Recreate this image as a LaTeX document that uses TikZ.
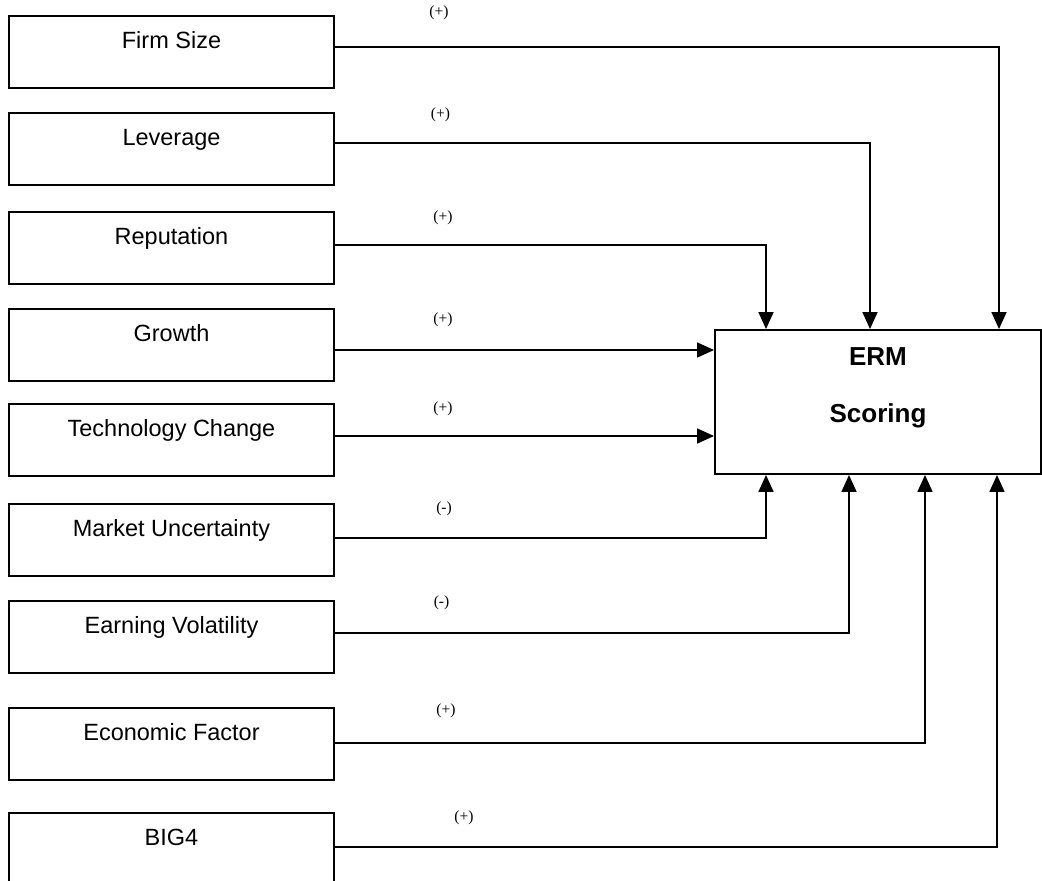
\documentclass[tikz,border=0pt]{standalone}
\usepackage{fontspec}
\setmainfont{Liberation Sans}
\newfontfamily\serifl{Liberation Serif}
\usetikzlibrary{arrows.meta}
\tikzset{
  factor/.style={draw, line width=1.9pt, anchor=north, minimum width=325pt, inner sep=0pt,
    text height=33pt, text depth=39pt, font=\fontsize{23.5}{28}\selectfont},
  ermbox/.style={draw, line width=1.9pt, minimum width=326pt, minimum height=144pt, inner sep=0pt},
  ermtext/.style={align=center, inner sep=0pt, font=\fontsize{26}{57}\selectfont\bfseries},
  conn/.style={line width=1.7pt, -{Triangle[length=17pt,width=15pt]}},
  sign/.style={font=\serifl\fontsize{15.5}{18}\selectfont, inner sep=0pt},
}
\begin{document}
\begin{tikzpicture}[x=1pt, y=-1pt]
\clip (0,0) rectangle (1042,881);
% factor boxes
\node[factor] (fs) at (171.5,15)  {Firm Size};
\node[factor] (lv) at (171.5,112) {Leverage};
\node[factor] (rp) at (171.5,211) {Reputation};
\node[factor] (gr) at (171.5,308) {Growth};
\node[factor] (tc) at (171.5,403) {Technology Change};
\node[factor] (mu) at (171.5,503) {Market Uncertainty};
\node[factor] (ev) at (171.5,600) {Earning Volatility};
\node[factor] (ef) at (171.5,707) {Economic Factor};
\node[factor] (bg) at (171.5,812) {BIG4};
% ERM box
\node[ermbox] (erm) at (878,402) {};
\node[ermtext] (ermlbl) at (878,388) {ERM\\Scoring};
% signs
\node[sign] (sfs) at (439,13)  {(+)};
\node[sign] (slv) at (440.5,115) {(+)};
\node[sign] (srp) at (443,218) {(+)};
\node[sign] (sgr) at (443,320) {(+)};
\node[sign] (stc) at (443,409) {(+)};
\node[sign] (smu) at (444,509) {(-)};
\node[sign] (sev) at (441.5,603) {(-)};
\node[sign] (sef) at (446,711) {(+)};
\node[sign] (sbg) at (464,818) {(+)};
% connectors from above
\draw[conn] (fs.east |- 0,47)  -- (999,47)  -- (erm.north -| 999,0);
\draw[conn] (lv.east |- 0,143) -- (870,143) -- (erm.north -| 870,0);
\draw[conn] (rp.east |- 0,245) -- (766,245) -- (erm.north -| 766,0);
% connectors from left
\draw[conn] (gr.east |- 0,350) -- (erm.west |- 0,350);
\draw[conn] (tc.east |- 0,436) -- (erm.west |- 0,436);
% connectors from below
\draw[conn] (mu.east |- 0,538) -- (766,538) -- (erm.south -| 766,0);
\draw[conn] (ev.east |- 0,633) -- (849,633) -- (erm.south -| 849,0);
\draw[conn] (ef.east |- 0,743) -- (925,743) -- (erm.south -| 925,0);
\draw[conn] (bg.east |- 0,847) -- (997,847) -- (erm.south -| 997,0);
\end{tikzpicture}
\end{document}
